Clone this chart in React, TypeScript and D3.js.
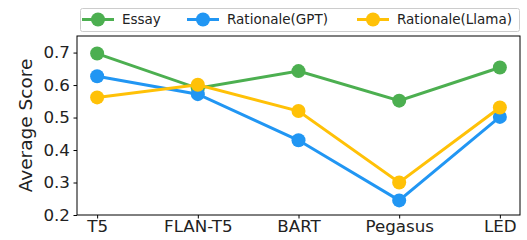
import React, { useEffect, useRef } from 'react';
import * as d3 from 'd3';

const models = ['T5', 'FLAN-T5', 'BART', 'Pegasus', 'LED'];
const essay = [0.697, 0.59, 0.643, 0.552, 0.654];
const gptRationale = [0.627, 0.572, 0.43, 0.245, 0.502];
const llamaRationale = [0.562, 0.601, 0.52, 0.3, 0.531];
const yTicks = [0.2, 0.3, 0.4, 0.5, 0.6, 0.7];

const series = [
  { name: 'Essay', values: essay, color: '#4CAF50' },
  { name: 'Rationale(GPT)', values: gptRationale, color: '#2196F3' },
  { name: 'Rationale(Llama)', values: llamaRationale, color: '#FFC107' },
];

const App = () => {
  const svgRef = useRef<SVGSVGElement>(null);
  const width = 527;
  const height = 240;

  useEffect(() => {
    const svg = d3.select(svgRef.current);
    svg.selectAll('*').remove();

    const font = 'DejaVu Sans, sans-serif';
    const margin = { top: 36, right: 7, bottom: 25, left: 77 };
    const innerWidth = width - margin.left - margin.right;
    const innerHeight = height - margin.top - margin.bottom;

    const x = d3.scalePoint().domain(models).range([0, innerWidth]).padding(0.2);
    const y = d3.scaleLinear().domain([0.2, 0.751]).range([innerHeight, 0]);

    const g = svg.append('g').attr('transform', `translate(${margin.left},${margin.top})`);

    const line = d3.line<number>()
      .x((_, i) => x(models[i])!)
      .y(d => y(d));

    series.forEach(s => {
      g.append('path')
        .datum(s.values)
        .attr('fill', 'none')
        .attr('stroke', s.color)
        .attr('stroke-width', 3)
        .attr('d', line);
      g.selectAll(null)
        .data(s.values)
        .enter().append('circle')
        .attr('cx', (_, i) => x(models[i])!)
        .attr('cy', d => y(d))
        .attr('r', 7)
        .attr('fill', s.color);
    });

    // Frame
    g.append('rect')
      .attr('width', innerWidth)
      .attr('height', innerHeight)
      .attr('fill', 'none')
      .attr('stroke', '#000')
      .attr('stroke-width', 1);

    // Axes
    const xAxis = g.append('g')
      .attr('transform', `translate(0,${innerHeight})`)
      .call(d3.axisBottom(x).tickSize(3.5).tickPadding(2));
    xAxis.select('.domain').remove();
    xAxis.selectAll('text').attr('font-size', 16.7).attr('font-family', font).attr('fill', '#222');

    const yAxis = g.append('g')
      .call(d3.axisLeft(y).tickValues(yTicks).tickFormat(d3.format('.1f')).tickSize(3.5).tickPadding(3.5));
    yAxis.select('.domain').remove();
    yAxis.selectAll('text').attr('font-size', 16.7).attr('font-family', font).attr('fill', '#222');

    svg.append('text')
      .attr('transform', `translate(32,${margin.top + innerHeight / 2}) rotate(-90)`)
      .attr('text-anchor', 'middle')
      .attr('font-family', font)
      .attr('font-size', 18.5)
      .attr('fill', '#222')
      .text('Average Score');

    // Legend
    const legend = svg.append('g');
    legend.append('rect')
      .attr('x', 80.5).attr('y', 8.5)
      .attr('width', 439).attr('height', 23)
      .attr('rx', 2)
      .attr('fill', '#fff')
      .attr('stroke', '#ccc');

    const legendX = [82, 187, 357];
    series.forEach((s, i) => {
      const lx = legendX[i];
      legend.append('line')
        .attr('x1', lx).attr('x2', lx + 32)
        .attr('y1', 19.5).attr('y2', 19.5)
        .attr('stroke', s.color).attr('stroke-width', 3);
      legend.append('circle')
        .attr('cx', lx + 16).attr('cy', 19.5).attr('r', 7).attr('fill', s.color);
      legend.append('text')
        .attr('x', lx + 40).attr('y', 19.5)
        .attr('dy', '0.35em')
        .attr('font-family', font)
        .attr('font-size', 13.5)
        .attr('fill', '#222')
        .text(s.name);
    });
  }, []);

  return <svg ref={svgRef} width={width} height={height} style={{ position: 'absolute', left: 0, top: 0 }}></svg>;
};

export default App;
